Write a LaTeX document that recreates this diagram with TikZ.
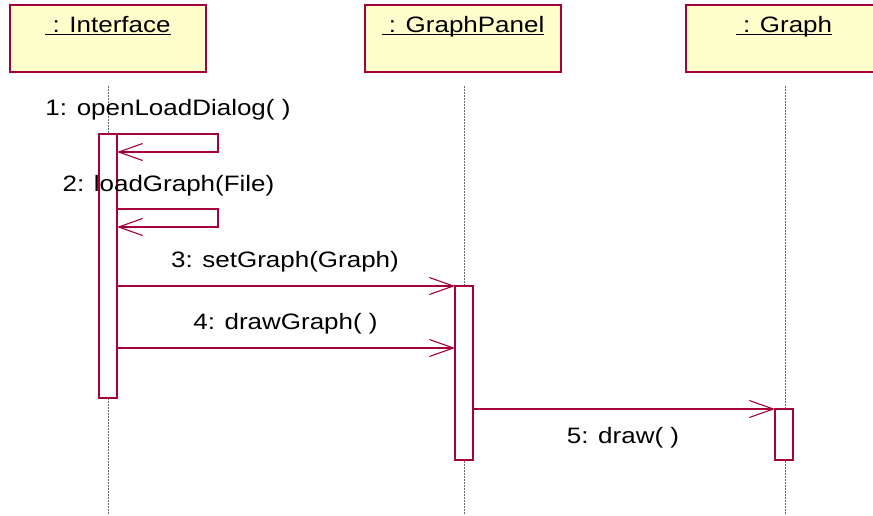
\documentclass[tikz,border=0pt]{standalone}
\usepackage{fontspec}
\usepackage{graphicx}
\setmainfont{Liberation Sans}
\usetikzlibrary{arrows.meta}

\definecolor{umlline}{RGB}{165,0,60}
\definecolor{umlfill}{RGB}{255,255,204}
\definecolor{lifegray}{RGB}{105,105,105}

% text is set slightly wider than the font's natural proportions
\newcommand\widetext[1]{\scalebox{1.165}[1]{#1}}
% underlined object name with a heavier rule
\newcommand\ulname[1]{\setbox0\hbox{#1}\rlap{\rule[-3pt]{\wd0}{1.8pt}}\box0}

\begin{document}
\begin{tikzpicture}[x=1pt,y=-1pt,
  objbox/.style={draw=umlline, fill=umlfill, line width=1.2pt, inner sep=0pt,
                 outer sep=0pt, minimum width=196pt, minimum height=67pt},
  objname/.style={anchor=base, inner sep=0pt, font=\fontsize{22.3}{26}\selectfont},
  lbl/.style={anchor=base, inner sep=0pt, font=\fontsize{22.3}{26}\selectfont},
  actbar/.style={draw=umlline, fill=white, line width=1.2pt, inner sep=0pt,
                 outer sep=0pt, minimum width=18pt},
  lifeline/.style={draw=lifegray, line width=0.8pt, dash pattern=on 2pt off 1pt},
  msg/.style={draw=umlline, line width=1.1pt},
  call/.style={msg, -{Straight Barb[length=24pt, width=17pt, line width=1.1pt]}}
]
\useasboundingbox (0,0) rectangle (873,515);

% object boxes
\node[objbox] (iface) at (108,38.5) {};
\node[objbox] (panel) at (463,38.5) {};
\node[objbox] (graph) at (784,38.5) {};
\node[objname] (ifaceName) at (108,32.3) {\widetext{\ulname{\ : Interface}}};
\node[objname] (panelName) at (463,32.3) {\widetext{\ulname{\ : GraphPanel}}};
\node[objname] (graphName) at (784,32.3) {\widetext{\ulname{\ : Graph}}};

% lifelines
\coordinate (ifaceTop) at (108,86);
\coordinate (ifaceEnd) at (108,515);
\coordinate (panelTop) at (464,86);
\coordinate (panelEnd) at (464,515);
\coordinate (graphTop) at (785,86);
\coordinate (graphEnd) at (785,515);
\draw[lifeline] (ifaceTop) -- (ifaceEnd);
\draw[lifeline] (panelTop) -- (panelEnd);
\draw[lifeline] (graphTop) -- (graphEnd);

% activation bars
\node[actbar, minimum height=264pt] (act1) at (108,266) {};
\node[actbar, minimum height=174pt] (act2) at (464,373) {};
\node[actbar, minimum height=51pt]  (act3) at (784,434.5) {};

% 1: self call
\coordinate (m1r) at (218,134);
\coordinate (m1b) at (218,152);
\draw[call] (act1.north east) -- (m1r) -- (m1b) -- (act1.east |- m1b);
\node[lbl] (l1) at (168,115) {\widetext{1: openLoadDialog( )}};

% 2: self call
\coordinate (m2t) at (218,209);
\coordinate (m2b) at (218,227);
\draw[call] (act1.east |- m2t) -- (m2t) -- (m2b) -- (act1.east |- m2b);
\node[lbl] (l2) at (168.5,191) {\widetext{2: loadGraph(File)}};

% 3: setGraph
\draw[call] (act1.east |- act2.north) -- (act2.north west);
\node[lbl] (l3) at (285,267) {\widetext{3: setGraph(Graph)}};

% 4: drawGraph
\coordinate (m4) at (464,348);
\draw[call] (act1.east |- m4) -- (act2.west |- m4);
\node[lbl] (l4) at (285.5,329) {\widetext{4: drawGraph( )}};

% 5: draw
\draw[call] (act2.east |- act3.north) -- (act3.north west);
\node[lbl] (l5) at (623,443) {\widetext{5: draw( )}};
\end{tikzpicture}
\end{document}
